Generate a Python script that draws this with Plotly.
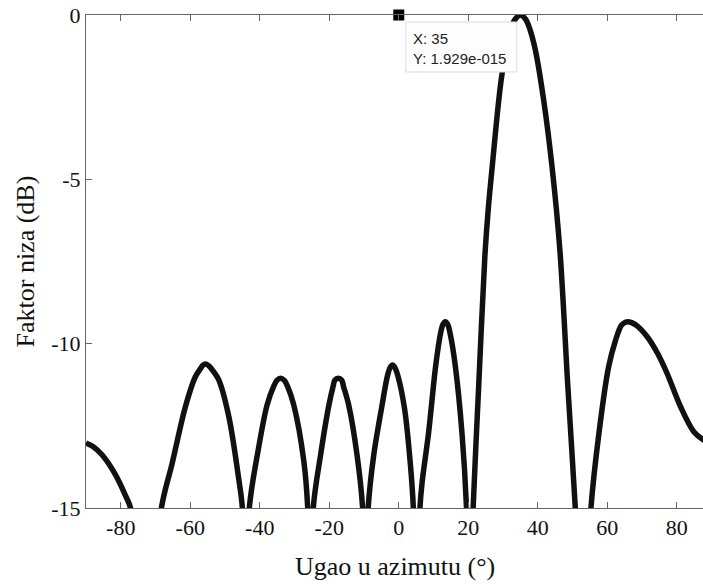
import plotly.graph_objects as go

# Azimuth angle (deg) and array factor (dB)
angle_deg = [-90, -88.0, -85.4, -81.5, -78.6, -77.2, -72.7, -68.3, -65.2, -61.4, -58.5,
             -57.0, -56.4, -55.6, -54.8, -54.0, -51.8, -48.9, -46.0, -45.0, -44.0,
             -43.0, -40.7, -37.9, -36.0, -35.0, -34.0, -33.0, -32.0, -30.2, -27.3,
             -26.2, -25.4, -24.6, -22.5, -20.1, -18.9, -18.4, -17.4, -16.4, -15.9,
             -14.4, -12.0, -10.4, -9.6, -8.8, -7.2, -4.8, -3.3, -2.5, -1.8,
             -1.1, -0.2, 1.7, 3.4, 4.2, 5.1, 6.1, 6.7, 8.6, 10.6,
             12.0, 12.7, 13.4, 14.1, 14.9, 16.3, 18.2, 19.5, 20.3, 21.4,
             23.0, 24.8, 25.8, 26.9, 29.6, 32.3, 33.5, 35.0, 36.5, 37.6,
             39.3, 41.7, 44.1, 46.4, 48.6, 50.8, 53.0, 55.3, 57.6, 60.4,
             62.4, 64.0, 65.0, 66.0, 67.0, 68.5, 71.5, 74.5, 77.2, 81.1,
             84.9, 87.7, 90.0]
af_db = [-13.02, -13.13, -13.38, -13.99, -14.63, -15.0, -20.0, -15.0, -13.64, -11.92, -11.0,
         -10.75, -10.66, -10.62, -10.66, -10.75, -11.1, -12.22, -14.15, -15.0, -19.0,
         -15.0, -13.39, -11.87, -11.3, -11.11, -11.05, -11.11, -11.3, -11.87, -13.59,
         -15.0, -19.0, -15.0, -13.39, -11.87, -11.3, -11.11, -11.05, -11.11, -11.3,
         -11.87, -13.39, -15.0, -19.0, -15.0, -13.39, -11.87, -11.0, -10.73, -10.65,
         -10.73, -11.0, -12.0, -13.74, -15.0, -19.0, -15.0, -14.24, -12.7, -10.7,
         -9.7, -9.42, -9.33, -9.42, -9.75, -10.7, -12.73, -15.0, -18.5, -15.0,
         -11.3, -7.3, -5.85, -4.61, -1.88, -0.42, -0.13, 0.0, -0.13, -0.39,
         -1.06, -2.59, -4.61, -7.2, -11.2, -15.0, -19.5, -15.0, -12.73, -10.7,
         -9.89, -9.45, -9.36, -9.33, -9.36, -9.45, -9.79, -10.3, -10.9, -11.92,
         -12.68, -12.93, -13.05]

x_ticks = [-80, -60, -40, -20, 0, 20, 40, 60, 80]
x_tick_labels = ["-80", "-60", "-40", "-20", "0", "20", "40", "60", "80"]
y_ticks = [-15, -10, -5, 0]
y_tick_labels = ["-15", "-10", "-5", "0"]

# Data tip
tip_marker_x = [0]
tip_marker_y = [0]
tip_x_value = 35
tip_y_text = "1.929e-015"

fig = go.Figure()
fig.add_trace(go.Scatter(
    x=angle_deg, y=af_db, mode="lines",
    line=dict(color="#111111", width=5.5, shape="spline", smoothing=0.9),
    hoverinfo="skip", showlegend=False,
))
fig.add_trace(go.Scatter(
    x=tip_marker_x, y=tip_marker_y, mode="markers",
    marker=dict(symbol="square", size=11, color="black"),
    cliponaxis=False, showlegend=False, hoverinfo="skip",
))

fig.add_shape(type="rect", xref="x", yref="y", xsizemode="pixel", ysizemode="pixel",
              xanchor=0, yanchor=0, x0=7, x1=118, y0=-7, y1=-57,
              fillcolor="#fdfdfd", line=dict(color="#dcdcdc", width=1), layer="above")
fig.add_annotation(x=0, y=0, xref="x", yref="y", xanchor="left", yanchor="top",
                   xshift=12, yshift=-13, showarrow=False, align="left",
                   text=f"X: {tip_x_value}<br>Y: {tip_y_text}",
                   font=dict(family="Liberation Sans, Arial", size=15, color="#222222"))

serif = "Liberation Serif, Times New Roman, serif"
fig.add_annotation(x=0.5, y=0, xref="paper", yref="paper", xanchor="center", yanchor="middle",
                   yshift=-58, showarrow=False, text="Ugao u azimutu (°)",
                   font=dict(family=serif, size=26, color="#111111"))
fig.add_annotation(x=0, y=0.5, xref="paper", yref="paper", xanchor="center", yanchor="middle",
                   xshift=-61, showarrow=False, text="Faktor niza (dB)", textangle=-90,
                   font=dict(family=serif, size=26, color="#111111"))

fig.update_layout(
    width=703, height=584,
    margin=dict(l=86, r=0, t=15, b=76, autoexpand=False),
    paper_bgcolor="white", plot_bgcolor="white",
    showlegend=False,
)
fig.update_xaxes(range=[-90, 87.55], tickvals=x_ticks, ticktext=x_tick_labels,
                 ticks="inside", ticklen=6, automargin=False,
                 tickcolor="#666666", showline=True, linecolor="#666666", linewidth=1,
                 mirror="ticks", showgrid=False, zeroline=False,
                 tickfont=dict(family=serif, size=22, color="#111111"))
fig.update_yaxes(range=[-15, 0], tickvals=y_ticks, ticktext=y_tick_labels, ticks="inside",
                 ticklen=6, tickcolor="#666666", showline=True, linecolor="#666666",
                 linewidth=1, mirror=False, showgrid=False, zeroline=False, automargin=False,
                 tickfont=dict(family=serif, size=22, color="#111111"))

fig.write_html(
    "out.html",
    config={"displayModeBar": False},
    post_script="document.documentElement.style.margin='0';document.body.style.margin='0';"
                "document.documentElement.style.overflow='hidden';document.body.style.overflow='hidden';",
)
